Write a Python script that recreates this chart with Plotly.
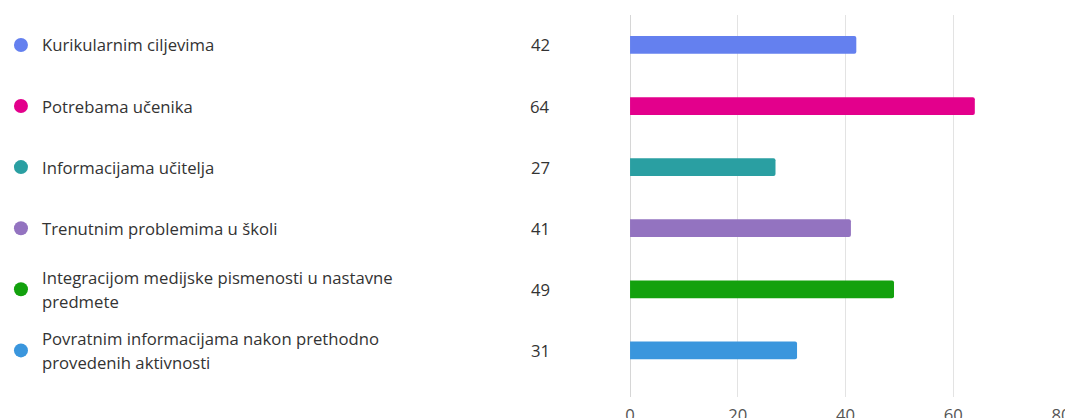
import plotly.graph_objects as go

categories = [
    "Kurikularnim ciljevima",
    "Potrebama učenika",
    "Informacijama učitelja",
    "Trenutnim problemima u školi",
    "Integracijom medijske pismenosti u nastavne<br>predmete",
    "Povratnim informacijama nakon prethodno<br>provedenih aktivnosti",
]
values = [42, 64, 27, 41, 49, 31]
colors = ["#6480EF", "#E3008C", "#2A9FA2", "#9373C0", "#13A10E", "#3A96DD"]
x_ticks = [0, 20, 40, 60, 80]

rows = list(range(len(categories)))

W, H = 1073, 418
ML, MR = 0, 20
PW = W - ML - MR
LEFT_PX = 620
SPLIT = LEFT_PX / PW
FONT = "Open Sans, Noto Sans, sans-serif"

fig = go.Figure()
fig.add_trace(go.Bar(
    x=values, y=rows, orientation="h", width=0.29,
    marker=dict(color=colors, line=dict(width=0)),
    hoverinfo="x", showlegend=False,
))
# legend dots on a hidden left axis (units = pixels)
fig.add_trace(go.Scatter(
    x=[8] * len(rows), y=rows, mode="markers", xaxis="x2",
    marker=dict(color=colors, size=14, line=dict(width=0)),
    hoverinfo="skip", showlegend=False,
))

for i, (cat, v) in enumerate(zip(categories, values)):
    lines = cat.split("<br>")
    n = len(lines)
    for k, line in enumerate(lines):
        shift = ((n - 1) / 2 - k) * 24
        fig.add_annotation(
            x=27, xref="x2", y=i, yref="y", text=line, showarrow=False,
            xanchor="left", yanchor="middle", align="left", yshift=shift,
            font=dict(family=FONT, size=16.7, color="#333333"),
        )
    fig.add_annotation(
        x=542, xref="x2", y=i, yref="y", text=str(v), showarrow=False,
        xanchor="right", yanchor="middle",
        font=dict(family=FONT, size=16.7, color="#333333"),
    )

fig.update_layout(
    width=W, height=H,
    margin=dict(l=ML, r=MR, t=7, b=28),
    paper_bgcolor="white", plot_bgcolor="white",
    barcornerradius=2,
    xaxis=dict(
        domain=[SPLIT, 1],
        range=[0, 80], tickvals=x_ticks, showgrid=True, gridcolor="#E3E3E3", gridwidth=1,
        zeroline=True, zerolinecolor="#D6D6D6", zerolinewidth=1,
        showline=False, ticks="outside", ticklen=3, tickcolor="white",
        tickfont=dict(family=FONT, size=16.7, color="#555555"),
        fixedrange=True,
    ),
    xaxis2=dict(
        domain=[0, SPLIT], range=[0, LEFT_PX], visible=False, anchor="y",
        fixedrange=True,
    ),
    yaxis=dict(
        range=[5.763, -0.49], visible=False, showgrid=False, zeroline=False, fixedrange=True,
    ),
)

fig.write_html("out.html")
